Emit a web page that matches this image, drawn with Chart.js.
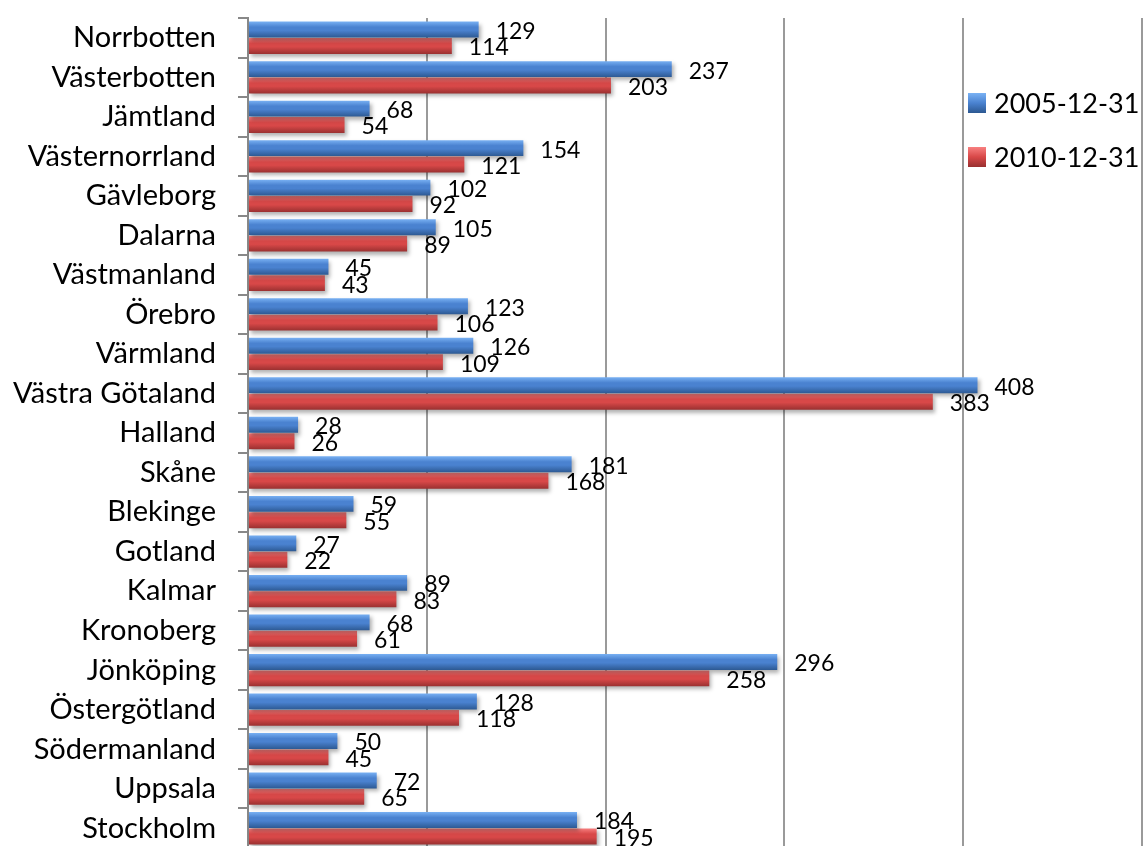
<!DOCTYPE html>
<html>
<head>
<meta charset="utf-8">
<script src="https://cdn.jsdelivr.net/npm/chart.js@4"></script>
<style>
  html, body { margin: 0; padding: 0; background: #fff; overflow: hidden; }
  #wrap { position: relative; width: 1143px; height: 848px; }
</style>
</head>
<body>
<div id="wrap"><canvas id="grafico"></canvas></div>
<script>
const lan = [
  "Norrbotten", "Västerbotten", "Jämtland", "Västernorrland", "Gävleborg",
  "Dalarna", "Västmanland", "Örebro", "Värmland", "Västra Götaland",
  "Halland", "Skåne", "Blekinge", "Gotland", "Kalmar", "Kronoberg",
  "Jönköping", "Östergötland", "Södermanland", "Uppsala", "Stockholm"
];
const varden2005 = [129, 237, 68, 154, 102, 105, 45, 123, 126, 408, 28, 181, 59, 27, 89, 68, 296, 128, 50, 72, 184];
const varden2010 = [114, 203, 54, 121, 92, 89, 43, 106, 109, 383, 26, 168, 55, 22, 83, 61, 258, 118, 45, 65, 195];
const serieNamn = ["2005-12-31", "2010-12-31"];
const xTicks = [0, 100, 200, 300, 400, 500];

const FONT = "Lato, 'Open Sans', sans-serif";
const farger = [
  { ljus: "#7ab2f4", mitt: "#4a82d0", mork: "#2c5891" },
  { ljus: "#f88080", mitt: "#d84848", mork: "#983030" },
];
const CAT_PCT = 0.83;

// gradient per stapel, räknad från y-skalan
function stapelFarg(context) {
  const f = farger[context.datasetIndex];
  const chart = context.chart;
  const y = chart.scales.y;
  if (!y || context.dataIndex === undefined) return f.mitt;
  const c = y.getPixelForValue(context.dataIndex);
  const steg = y.height / lan.length;
  const h = (steg * CAT_PCT) / 2;
  const top = context.datasetIndex === 0 ? c - h : c;
  if (!isFinite(top) || !isFinite(h) || h <= 0) return f.mitt;
  const g = chart.ctx.createLinearGradient(0, top, 0, top + h);
  g.addColorStop(0, f.ljus);
  g.addColorStop(0.35, f.mitt);
  g.addColorStop(0.55, f.mitt);
  g.addColorStop(1, f.mork);
  return g;
}

const skuggaOchEtiketter = {
  id: "skuggaOchEtiketter",
  beforeDatasetsDraw(chart) {
    const ctx = chart.ctx;
    ctx.save();
    ctx.shadowColor = "rgba(0,0,0,0.3)";
    ctx.shadowBlur = 4;
    ctx.shadowOffsetX = 2;
    ctx.shadowOffsetY = 3;
  },
  afterDatasetsDraw(chart) {
    const ctx = chart.ctx;
    ctx.restore();
    ctx.save();
    ctx.font = "23px " + FONT;
    ctx.fillStyle = "#000";
    ctx.textAlign = "left";
    ctx.textBaseline = "middle";
    chart.data.datasets.forEach((ds, i) => {
      chart.getDatasetMeta(i).data.forEach((el, j) => {
        ctx.fillText(ds.data[j], el.x + 17, el.y + 2);
      });
    });
    ctx.restore();
  },
};

const egenLegend = {
  id: "egenLegend",
  afterDraw(chart) {
    const ctx = chart.ctx;
    const x0 = chart.width - 175;
    const rader = [103, 157];
    ctx.save();
    ctx.font = "27px " + FONT;
    ctx.textAlign = "left";
    ctx.textBaseline = "middle";
    chart.data.datasets.forEach((ds, i) => {
      const f = farger[i];
      const yc = rader[i];
      const g = ctx.createLinearGradient(0, yc - 10, 0, yc + 10);
      g.addColorStop(0, f.ljus);
      g.addColorStop(0.5, f.mitt);
      g.addColorStop(1, f.mork);
      ctx.fillStyle = g;
      ctx.fillRect(x0, yc - 10, 18, 20);
      ctx.fillStyle = "#000";
      ctx.fillText(ds.label, x0 + 26, yc + 1);
    });
    ctx.restore();
  },
};

const chart = new Chart(document.getElementById("grafico"), {
  type: "bar",
  data: {
    labels: lan,
    datasets: [
      {
        label: serieNamn[0],
        data: varden2005,
        backgroundColor: stapelFarg,
        categoryPercentage: CAT_PCT,
        barPercentage: 0.97,
        borderWidth: 0,
      },
      {
        label: serieNamn[1],
        data: varden2010,
        backgroundColor: stapelFarg,
        categoryPercentage: CAT_PCT,
        barPercentage: 0.97,
        borderWidth: 0,
      },
    ],
  },
  options: {
    indexAxis: "y",
    responsive: true,
    maintainAspectRatio: false,
    animation: false,
    layout: { padding: { top: 18, right: 1, bottom: 0, left: 0 } },
    plugins: {
      legend: { display: false },
      tooltip: { enabled: false },
      colors: { enabled: false },
    },
    scales: {
      x: {
        min: 0,
        max: 500,
        afterBuildTicks: (scale) => {
          scale.ticks = xTicks.map((v) => ({ value: v }));
        },
        afterFit: (scale) => {
          scale.height = 0;
          scale.paddingLeft = 0;
          scale.paddingRight = 0;
        },
        ticks: { display: false },
        grid: { color: "#9a9a9a", lineWidth: 2, drawTicks: false },
        border: { display: false },
      },
      y: {
        afterFit: (scale) => {
          scale.width = 248;
          scale.paddingTop = 0;
          scale.paddingBottom = 0;
        },
        ticks: {
          color: "#000",
          font: { family: FONT, size: 29 },
          padding: 22,
          autoSkip: false,
        },
        grid: {
          offset: true,
          drawOnChartArea: false,
          tickLength: 10,
          color: "#888",
          lineWidth: 2,
        },
        border: { color: "#888", width: 2 },
      },
    },
  },
  plugins: [skuggaOchEtiketter, egenLegend],
});
</script>
</body>
</html>
